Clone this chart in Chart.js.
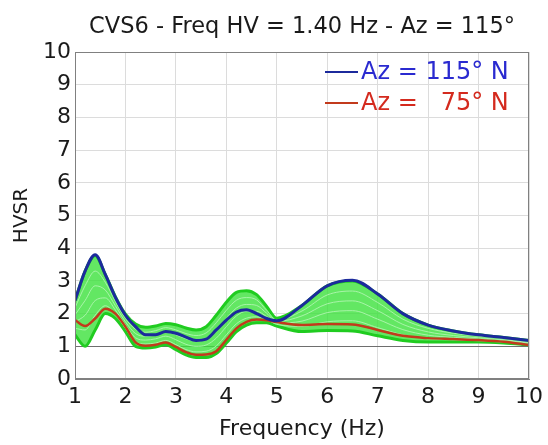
<!DOCTYPE html>
<html>
<head>
<meta charset="utf-8">
<script src="https://cdn.jsdelivr.net/npm/chart.js@4.4.0/dist/chart.umd.min.js"></script>
<style>
  html, body { margin: 0; padding: 0; background: #fff; }
</style>
</head>
<body>
<canvas id="hvsr-chart" width="548" height="445"></canvas>
<script>
const chartTitle = 'CVS6 - Freq HV = 1.40 Hz - Az = 115°';

// frequencies (Hz)
const freq = [1.0, 1.2, 1.4, 1.6, 1.8, 2.0, 2.2, 2.4, 2.6, 2.8, 3.0, 3.2, 3.4, 3.6, 3.8, 4.0,
              4.2, 4.4, 4.6, 4.8, 5.0, 5.5, 6.0, 6.5, 7.0, 7.5, 8.0, 8.5, 9.0, 9.5, 10.0];

// HVSR curves for the two labelled azimuths
const az115 = [2.40, 3.30, 3.80, 3.20, 2.50, 1.95, 1.60, 1.35, 1.35, 1.45, 1.40, 1.28, 1.18, 1.22, 1.50, 1.80,
               2.05, 2.12, 2.00, 1.85, 1.78, 2.25, 2.85, 3.02, 2.60, 2.00, 1.65, 1.47, 1.35, 1.27, 1.18];
const az75 = [1.80, 1.62, 1.85, 2.15, 2.00, 1.60, 1.12, 1.02, 1.05, 1.12, 0.98, 0.82, 0.74, 0.75, 0.85, 1.20,
              1.55, 1.75, 1.82, 1.80, 1.74, 1.65, 1.68, 1.67, 1.50, 1.32, 1.25, 1.22, 1.19, 1.14, 1.04];

// other azimuths (green band)
const greenLo = [1.35, 1.00, 1.50, 2.00, 1.85, 1.45, 1.00, 0.95, 0.98, 1.05, 0.90, 0.74, 0.66, 0.66, 0.78, 1.10,
                 1.45, 1.65, 1.72, 1.72, 1.62, 1.45, 1.48, 1.47, 1.32, 1.18, 1.13, 1.13, 1.13, 1.10, 1.04];
const greenA = [1.55, 1.50, 1.95, 2.24, 1.98, 1.55, 1.13, 1.07, 1.10, 1.18, 1.05, 0.90, 0.83, 0.85, 1.01, 1.35,
                1.69, 1.86, 1.90, 1.82, 1.67, 1.61, 1.75, 1.78, 1.57, 1.35, 1.23, 1.20, 1.17, 1.13, 1.07];
const greenB = [1.75, 1.95, 2.40, 2.48, 2.11, 1.65, 1.26, 1.19, 1.23, 1.31, 1.20, 1.06, 1.00, 1.04, 1.25, 1.60,
                1.93, 2.07, 2.07, 1.91, 1.71, 1.77, 2.03, 2.09, 1.83, 1.51, 1.34, 1.27, 1.22, 1.17, 1.10];
const greenC = [1.96, 2.40, 2.85, 2.72, 2.24, 1.75, 1.39, 1.31, 1.35, 1.44, 1.35, 1.23, 1.16, 1.22, 1.48, 1.85,
                2.17, 2.28, 2.25, 2.01, 1.76, 1.93, 2.30, 2.39, 2.09, 1.67, 1.44, 1.33, 1.26, 1.20, 1.12];
const greenD = [2.18, 2.85, 3.30, 2.96, 2.37, 1.85, 1.52, 1.43, 1.48, 1.57, 1.50, 1.39, 1.33, 1.41, 1.72, 2.10,
                2.41, 2.49, 2.42, 2.10, 1.80, 2.08, 2.57, 2.69, 2.34, 1.83, 1.55, 1.40, 1.31, 1.24, 1.15];
const greenHi = [2.40, 3.30, 3.78, 3.20, 2.52, 1.98, 1.68, 1.58, 1.62, 1.70, 1.66, 1.56, 1.50, 1.60, 1.95, 2.35,
                 2.65, 2.70, 2.58, 2.22, 1.86, 2.25, 2.85, 3.00, 2.60, 2.00, 1.65, 1.47, 1.35, 1.27, 1.18];

const xTicks = [1, 2, 3, 4, 5, 6, 7, 8, 9, 10];
const yTicks = [0, 1, 2, 3, 4, 5, 6, 7, 8, 9, 10];

const FONT = '"DejaVu Sans", "Liberation Sans", Arial, sans-serif';

function pts(values) {
    return values.map((v, i) => ({ x: freq[i], y: v }));
}

function greenLine(values, color, width, extra) {
    return Object.assign({
        label: '',
        data: pts(values),
        borderColor: color,
        borderWidth: width,
        pointRadius: 0,
        cubicInterpolationMode: 'monotone',
        fill: false,
        order: 5
    }, extra || {});
}

// title, frame and in-plot legend
const decorations = {
    id: 'decorations',
    afterDraw(chart) {
        const ctx = chart.ctx;
        const a = chart.chartArea;
        ctx.save();
        ctx.strokeStyle = '#808080';
        ctx.lineWidth = 1;
        ctx.strokeRect(a.left + 0.5, a.top + 0.5, a.right - a.left - 1, a.bottom - a.top - 1);

        ctx.fillStyle = '#1a1a1a';
        ctx.font = '22.5px ' + FONT;
        ctx.textAlign = 'center';
        ctx.textBaseline = 'alphabetic';
        ctx.fillText(chartTitle, (a.left + a.right) / 2, 33);

        const items = chart.data.datasets.filter(d => d.label).sort((p, q) => p.order - q.order);
        ctx.font = '24px ' + FONT;
        ctx.textAlign = 'left';
        ctx.textBaseline = 'middle';
        items.forEach((d, i) => {
            const y = 72 + i * 31;
            ctx.strokeStyle = d.borderColor;
            ctx.lineWidth = 2;
            ctx.beginPath();
            ctx.moveTo(325, y);
            ctx.lineTo(358, y);
            ctx.stroke();
            ctx.fillStyle = d.legendColor;
            ctx.fillText(d.label, 361, y + 1);
        });
        ctx.restore();
    }
};

new Chart(document.getElementById('hvsr-chart'), {
    type: 'line',
    data: {
        datasets: [
            greenLine(greenLo, '#20cc20', 3),
            greenLine(greenHi, '#20cc20', 3, { fill: '-1', backgroundColor: 'rgba(60,225,60,0.8)' }),
            greenLine(greenA, 'rgba(175,245,175,0.9)', 1, { order: 4 }),
            greenLine(greenB, 'rgba(175,245,175,0.9)', 1, { order: 4 }),
            greenLine(greenC, 'rgba(175,245,175,0.9)', 1, { order: 4 }),
            greenLine(greenD, 'rgba(175,245,175,0.9)', 1, { order: 4 }),
            {
                label: 'Az =   75° N',
                data: pts(az75),
                borderColor: '#c23a1c',
                legendColor: '#d42a1e',
                borderWidth: 2.5,
                pointRadius: 0,
                cubicInterpolationMode: 'monotone',
                order: 1
            },
            {
                label: 'Az = 115° N',
                data: pts(az115),
                borderColor: '#1c2a9c',
                legendColor: '#2a2ad0',
                borderWidth: 3,
                pointRadius: 0,
                cubicInterpolationMode: 'monotone',
                order: 0
            }
        ]
    },
    options: {
        responsive: false,
        animation: false,
        layout: { padding: { top: 52, right: 19, left: 0, bottom: 0 } },
        plugins: {
            legend: { display: false },
            tooltip: { enabled: false }
        },
        scales: {
            x: {
                type: 'linear',
                min: 1,
                max: 10,
                afterFit: s => { s.height = 66; },
                afterBuildTicks: s => { s.ticks = xTicks.map(v => ({ value: v })); },
                ticks: { color: '#1a1a1a', font: { family: FONT, size: 22 }, padding: 5, maxRotation: 0 },
                grid: { color: '#dcdcdc', drawTicks: false },
                border: { color: '#808080' },
                title: { display: true, text: 'Frequency (Hz)', color: '#1a1a1a',
                         font: { family: FONT, size: 22 }, padding: { top: 0, bottom: 3 } }
            },
            y: {
                min: 0,
                max: 10,
                afterFit: s => { s.width = 75; },
                afterBuildTicks: s => { s.ticks = yTicks.map(v => ({ value: v })); },
                ticks: { color: '#1a1a1a', font: { family: FONT, size: 22 }, padding: 4 },
                grid: {
                    color: c => (c.tick && c.tick.value === 1) ? '#6e6e6e' : '#dcdcdc',
                    drawTicks: false
                },
                border: { color: '#808080' },
                title: { display: true, text: 'HVSR', color: '#1a1a1a',
                         font: { family: FONT, size: 20 }, padding: { top: 10, bottom: 0 } }
            }
        }
    },
    plugins: [decorations]
});
</script>
</body>
</html>
